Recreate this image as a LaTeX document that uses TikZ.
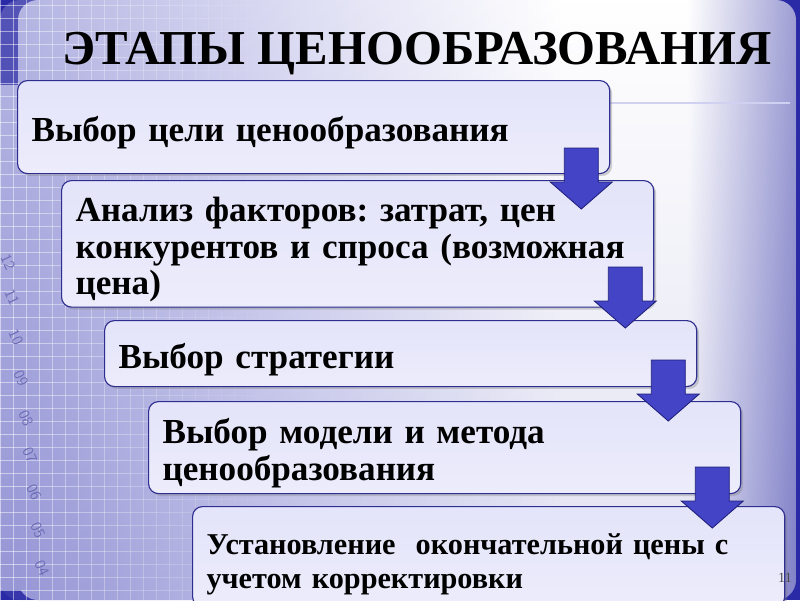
\documentclass[tikz,border=0pt]{standalone}
\usepackage{fontspec}
\setmainfont{Liberation Serif}
\frenchspacing
\usetikzlibrary{positioning, calc, shadows}
\definecolor{slideblue}{HTML}{2A2AA6}
\definecolor{panelleft}{HTML}{A2A2DC}
\definecolor{panelmid}{HTML}{D8D8F2}
\definecolor{panelright}{HTML}{8686CA}
\definecolor{boxlight}{HTML}{E4E4FA}
\definecolor{boxmid}{HTML}{B2B2EE}
\definecolor{boxline}{HTML}{2E2E90}
\definecolor{arrowfill}{HTML}{4444C6}
\definecolor{arrowline}{HTML}{1E1E7A}
\definecolor{ticktext}{HTML}{6C6CB6}
\pgfdeclarehorizontalshading{panel}{100bp}{color(0bp)=(panelleft); color(25bp)=(panelleft); color(44bp)=(panelmid); color(60bp)=(white); color(68bp)=(white); color(75bp)=(panelright); color(100bp)=(panelright)}
\tikzset{
	stage/.style = {draw=boxline, line width=0.8pt, rounded corners=0.25cm, anchor=north west,
		top color=boxlight, middle color=boxmid, bottom color=boxlight!70!white,
		minimum width=14.8cm, inner xsep=0.35cm, text width=14.1cm, align=left,
		font=\fontsize{25}{26}\selectfont\bfseries,
		execute at begin node={\rule{0pt}{26pt}},
		drop shadow={shadow xshift=0.06cm, shadow yshift=-0.06cm, opacity=0.35}},
	gridline/.style = {white, line width=0.6pt},
	blockarrow/.pic = {
		\filldraw[fill=arrowfill, draw=arrowline, line width=0.6pt]
			(0,0) -- (-31,-27) -- (-17,-27) -- (-17,-61) -- (17,-61) -- (17,-27) -- (31,-27) -- cycle;
	}
}

\begin{document}
\begin{tikzpicture}[x=0.025cm, y=-0.025cm]
	\useasboundingbox (0,0) rectangle (800,600);
	\fill[slideblue] (0,0) rectangle (800,600);
	\fill[panelleft] (0,85) rectangle (30,590);
	\shade[shading=panel, rounded corners=0.5cm] (18,0) rectangle (796,600);
	\shade[top color=white, bottom color=slideblue!70, opacity=0.2, rounded corners=0.5cm] (0,0) rectangle (796,600);
	\foreach \x in {0,13,...,260}
		\draw[gridline, opacity={0.5*(1-\x/270)}] (\x,0) -- (\x,600);
	\foreach \y in {5,18,...,600}
		\foreach \x in {0,26,...,234}
			\draw[gridline, opacity={0.5*(1-\x/260)}] (\x,\y) -- (\x+26,\y);
	\foreach \t/\x/\y [count=\n] in {12/8/262, 11/12/297, 10/16/337, 09/21/378, 08/26/418, 07/30/455, 06/34/492, 05/38/530, 04/42/568}
		\node[rotate=-65, inner sep=0pt, text=ticktext, font=\fontsize{11}{11}\sffamily] (tick\n) at (\x,\y) {\t};
	\draw[panelmid!80!boxmid, line width=1.5pt] (600,103) -- (790,103);

	\node[font=\fontsize{34.7}{40}\selectfont\bfseries] (title) at (417,54) {ЭТАПЫ ЦЕНООБРАЗОВАНИЯ};

	\node[stage, minimum height=2.325cm] (goal) at (17,80) {Выбор цели ценообразования};
	\node[stage, minimum height=3cm] (factors) at (61,180) {Анализ факторов: затрат, цен\\конкурентов и спроса (возможная\\цена)};
	\node[stage, minimum height=1.65cm] (strategy) at (104,320) {Выбор стратегии};
	\node[stage, minimum height=2.3cm] (method) at (148,401) {Выбор модели и метода\\ценообразования};
	\node[stage, minimum height=2.5cm, font=\fontsize{21.5}{24}\selectfont\bfseries,
		execute at begin node={\rule{0pt}{20pt}}] (price) at (192,506) {Установление\ \ окончательной цены с\\учетом корректировки};

	\foreach \a/\b/\d in {goal/factors/29, factors/strategy/8, strategy/method/20, method/price/22}
		\path ($(\a.east |- \b.north)+(-29,\d)$) pic {blockarrow};

	\node[font=\fontsize{10}{10}\selectfont, text=black!70] (pagenum) at (785,578) {11};
\end{tikzpicture}
\end{document}
